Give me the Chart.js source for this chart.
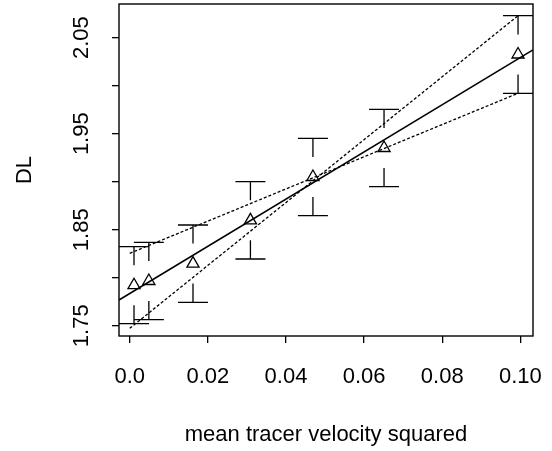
<!DOCTYPE html>
<html>
<head>
<meta charset="utf-8">
<script src="https://cdn.jsdelivr.net/npm/chart.js@4.4.1/dist/chart.umd.min.js"></script>
<style>
    body { margin: 0; background: #fff; }
    #dlChart { display: block; }
</style>
</head>
<body>
<canvas id="dlChart" width="552" height="451"></canvas>
<script>
// values
const velSq = [0.0011, 0.0049, 0.0162, 0.0309, 0.0469, 0.0651, 0.0994];
const dl = [1.7922, 1.7966, 1.8147, 1.8598, 1.9049, 1.9351, 2.0325];
const dlUpper = [1.8323, 1.8369, 1.8549, 1.9000, 1.9452, 1.9754, 2.0729];
const dlLower = [1.7521, 1.7563, 1.7744, 1.8195, 1.8646, 1.8948, 1.9921];

// fitted line (solid) and the two extreme-slope lines (dotted)
const fitX = [-0.00274, 0.10323];
const fitY = [1.7768, 2.0372];
const shallowX = [0.0, 0.0994];
const shallowY = [1.8254, 1.9921];
const steepX = [0.0, 0.0994];
const steepY = [1.7473, 2.0729];

// axis ticks
const xTicks = [0, 0.02, 0.04, 0.06, 0.08, 0.10];
const xTickLabels = ['0.0', '0.02', '0.04', '0.06', '0.08', '0.10'];
const yTicks = [1.75, 1.80, 1.85, 1.90, 1.95, 2.00, 2.05];
const yTickLabels = ['1.75', '', '1.85', '', '1.95', '', '2.05'];

const FONT = "'Liberation Sans', Arial, Helvetica, sans-serif";

const toPoints = (xs, ys) => xs.map((x, i) => ({ x: x, y: ys[i] }));

// keep the plot box where R put it (no label overhang padding)
const noOverhang = s => {
    s.paddingLeft = 0;
    s.paddingRight = 0;
    s.paddingTop = 0;
    s.paddingBottom = 0;
};

// box around the plot, error bars, rotated y labels
const rPlotExtras = {
    id: 'rPlotExtras',
    afterDatasetsDraw(chart) {
        const { ctx, chartArea, scales } = chart;
        const xs = scales.x, ys = scales.y;
        ctx.save();
        ctx.strokeStyle = '#000';
        ctx.lineWidth = 1.3;

        // error bars with a gap around the point
        const capHalf = 15, gap = 20;
        velSq.forEach((v, i) => {
            const px = xs.getPixelForValue(v);
            const py = ys.getPixelForValue(dl[i]);
            const pHi = ys.getPixelForValue(dlUpper[i]);
            const pLo = ys.getPixelForValue(dlLower[i]);
            ctx.beginPath();
            ctx.moveTo(px - capHalf, pHi); ctx.lineTo(px + capHalf, pHi);
            ctx.moveTo(px - capHalf, pLo); ctx.lineTo(px + capHalf, pLo);
            if (py - gap > pHi) { ctx.moveTo(px, pHi); ctx.lineTo(px, py - gap); }
            if (py + gap < pLo) { ctx.moveTo(px, py + gap); ctx.lineTo(px, pLo); }
            ctx.stroke();
        });

        // box
        ctx.lineWidth = 1.4;
        ctx.strokeRect(chartArea.left, chartArea.top, chartArea.right - chartArea.left, chartArea.bottom - chartArea.top);

        // y tick labels, rotated like R (las = 0)
        ctx.fillStyle = '#000';
        ctx.font = '22px ' + FONT;
        ctx.textAlign = 'center';
        ctx.textBaseline = 'alphabetic';
        yTicks.forEach((t, i) => {
            if (!yTickLabels[i]) return;
            ctx.save();
            ctx.translate(88, ys.getPixelForValue(t));
            ctx.rotate(-Math.PI / 2);
            ctx.fillText(yTickLabels[i], 0, 0);
            ctx.restore();
        });
        ctx.restore();
    }
};

new Chart(document.getElementById('dlChart'), {
    type: 'scatter',
    plugins: [rPlotExtras],
    data: {
        datasets: [
            {
                label: 'DL',
                data: toPoints(velSq, dl),
                pointStyle: 'triangle',
                pointRadius: 7,
                borderColor: '#000',
                backgroundColor: 'rgba(0,0,0,0)',
                borderWidth: 1.3,
                showLine: false,
            },
            {
                type: 'line',
                label: 'fit',
                data: toPoints(fitX, fitY),
                borderColor: '#000',
                borderWidth: 1.5,
                pointRadius: 0,
                fill: false,
            },
            {
                type: 'line',
                label: 'shallow',
                data: toPoints(shallowX, shallowY),
                borderColor: '#000',
                borderWidth: 1.3,
                borderDash: [3, 2],
                pointRadius: 0,
                fill: false,
            },
            {
                type: 'line',
                label: 'steep',
                data: toPoints(steepX, steepY),
                borderColor: '#000',
                borderWidth: 1.3,
                borderDash: [3, 2],
                pointRadius: 0,
                fill: false,
            },
        ],
    },
    options: {
        responsive: false,
        animation: false,
        layout: { autoPadding: false, padding: { left: 0, right: 19, top: 4, bottom: 0 } },
        plugins: {
            legend: { display: false },
            tooltip: { enabled: false },
        },
        scales: {
            x: {
                type: 'linear',
                min: -0.00274,
                max: 0.10323,
                afterBuildTicks: s => { s.ticks = xTicks.map(v => ({ value: v })); },
                afterFit: s => { s.height = 115; noOverhang(s); },
                border: { display: false },
                grid: { drawOnChartArea: false, drawTicks: true, tickLength: 7, color: '#000', lineWidth: 1.3 },
                ticks: {
                    color: '#000',
                    font: { family: FONT, size: 22 },
                    padding: 21,
                    maxRotation: 0,
                    autoSkip: false,
                    callback: (val, idx) => xTickLabels[idx],
                },
                title: {
                    display: true,
                    text: 'mean tracer velocity squared',
                    color: '#000',
                    font: { family: FONT, size: 22 },
                    padding: { top: 0, bottom: 3 },
                },
            },
            y: {
                type: 'linear',
                min: 1.7393,
                max: 2.0851,
                afterBuildTicks: s => { s.ticks = yTicks.map(v => ({ value: v })); },
                afterFit: s => { s.width = 119; noOverhang(s); },
                border: { display: false },
                grid: { drawOnChartArea: false, drawTicks: true, tickLength: 7, color: '#000', lineWidth: 1.3 },
                ticks: { display: false },
                title: {
                    display: true,
                    text: 'DL',
                    color: '#000',
                    font: { family: FONT, size: 22 },
                    padding: { top: 12, bottom: 0 },
                },
            },
        },
    },
});
</script>
</body>
</html>
